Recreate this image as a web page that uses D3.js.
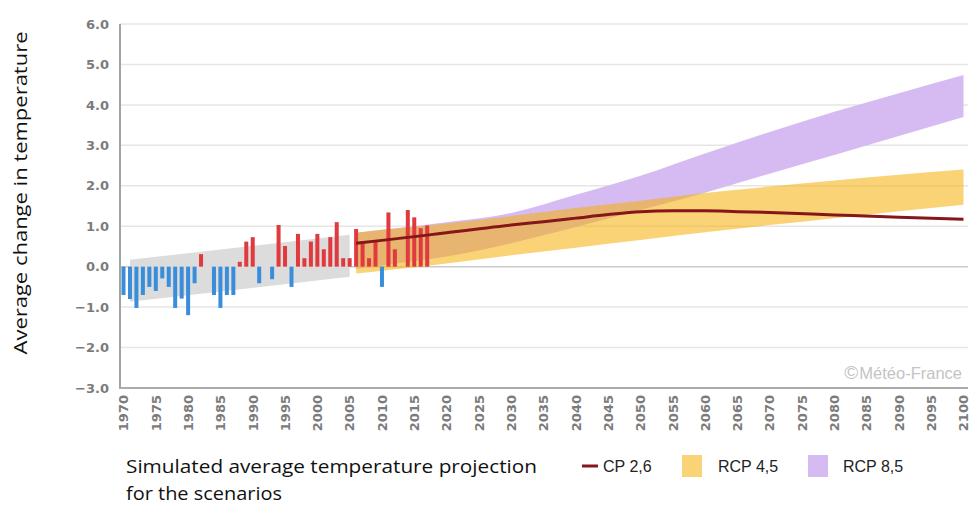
<!DOCTYPE html>
<html>
<head>
<meta charset="utf-8">
<script src="https://cdn.jsdelivr.net/npm/d3@7"></script>
<style>
  html, body { margin: 0; padding: 0; background: #fff; }
  svg { display: block; }
</style>
</head>
<body>
<svg id="chart" width="971" height="507"></svg>
<script>
// ---------- DATA ----------
const obsYears = d3.range(1970, 2018);
const obsValues = [
  -0.70, -0.80, -1.02, -0.70, -0.50, -0.60, -0.29, -0.50, -1.02, -0.79,
  -1.20, -0.41,  0.31,  0.00, -0.70, -1.02, -0.70, -0.70,  0.12,  0.62,
   0.73, -0.41,  0.00, -0.31,  1.03,  0.51, -0.50,  0.81,  0.21,  0.62,
   0.81,  0.43,  0.73,  1.10,  0.21,  0.21,  0.93,  0.62,  0.21,  0.62,
  -0.50,  1.34,  0.43,  0.00,  1.40,  1.22,  0.95,  1.02
];

const trendYears = [1971, 2005];
const trendLow   = [-0.87, -0.25];
const trendHigh  = [0.17, 0.79];

const projYears   = [2006, 2010, 2020, 2030, 2040, 2050, 2060, 2070, 2080, 2090, 2100];
const rcp45Low    = [-0.17, -0.10, 0.08, 0.28, 0.47, 0.66, 0.85, 1.03, 1.20, 1.37, 1.53];
const rcp45High   = [0.84, 0.91, 1.07, 1.25, 1.45, 1.63, 1.82, 1.98, 2.13, 2.27, 2.40];
const rcp85Low    = [-0.05, 0.03, 0.25, 0.58, 0.98, 1.40, 1.83, 2.30, 2.76, 3.23, 3.70];
const rcp85High   = [0.84, 0.91, 1.10, 1.33, 1.78, 2.25, 2.80, 3.33, 3.83, 4.29, 4.74];

const rcp26Years  = [2006, 2010, 2017, 2020, 2030, 2035, 2040, 2045, 2050, 2055, 2060, 2065, 2070, 2080, 2090, 2100];
const rcp26Values = [0.58, 0.65, 0.78, 0.84, 1.03, 1.11, 1.20, 1.29, 1.36, 1.38, 1.38, 1.36, 1.34, 1.28, 1.22, 1.17];

const xTicks = d3.range(1970, 2101, 5);
const yTicks = d3.range(-3, 7, 1);

const legendItems = ["CP 2,6", "RCP 4,5", "RCP 8,5"];
const yTitle = "Average change in temperature";
const captionLines = ["Simulated average temperature projection", "for the scenarios"];
const watermark = "M\u00E9t\u00E9o-France";

// ---------- LAYOUT ----------
const svg = d3.select("#chart");
const x = d3.scaleLinear().domain([1970, 2100]).range([123.5, 963.5]);
const y = d3.scaleLinear().domain([-3, 6]).range([388, 24]);
const plotLeft = 120, plotRight = 968;

const tickFont = "'DejaVu Sans', Verdana, sans-serif";
const tickColor = "#7b7b7b";

// gridlines
svg.append("g").selectAll("line")
  .data(yTicks)
  .join("line")
  .attr("x1", plotLeft).attr("x2", plotRight)
  .attr("y1", d => y(d)).attr("y2", d => y(d))
  .attr("stroke", d => d === 0 ? "#cccccc" : "#e6e6e6")
  .attr("stroke-width", 1.5);

// trend band (grey)
const trend = trendYears.map((yr, i) => ({yr, lo: trendLow[i], hi: trendHigh[i]}));
svg.append("path")
  .datum(trend)
  .attr("fill", "#dcdcdc")
  .attr("d", d3.area().x(d => x(d.yr)).y0(d => y(d.lo)).y1(d => y(d.hi)));

// projection bands
const proj = projYears.map((yr, i) => ({
  yr, l45: rcp45Low[i], h45: rcp45High[i], l85: rcp85Low[i], h85: rcp85High[i]
}));
svg.append("path")
  .datum(proj)
  .attr("fill", "#d5bbf2")
  .attr("d", d3.area().curve(d3.curveMonotoneX)
    .x(d => x(d.yr)).y0(d => y(d.l85)).y1(d => y(d.h85)));
svg.append("path")
  .datum(proj)
  .attr("fill", "rgb(244,176,10)")
  .attr("fill-opacity", 0.56)
  .attr("d", d3.area().curve(d3.curveMonotoneX)
    .x(d => x(d.yr)).y0(d => y(d.l45)).y1(d => y(d.h45)));

// bars
const obs = obsYears.map((yr, i) => ({yr, v: obsValues[i]}));
const barW = 4;
svg.append("g").selectAll("rect")
  .data(obs.filter(d => d.v !== 0))
  .join("rect")
  .attr("x", d => x(d.yr) - barW / 2)
  .attr("width", barW)
  .attr("y", d => y(Math.max(0, d.v)))
  .attr("height", d => Math.abs(y(d.v) - y(0)))
  .attr("fill", d => d.v > 0 ? "#e03a3e" : "#3a8dd8");

// RCP 2.6 line
const r26 = rcp26Years.map((yr, i) => ({yr, v: rcp26Values[i]}));
svg.append("path")
  .datum(r26)
  .attr("fill", "none")
  .attr("stroke", "#861619")
  .attr("stroke-width", 3)
  .attr("d", d3.line().curve(d3.curveMonotoneX).x(d => x(d.yr)).y(d => y(d.v)));

// axes lines
svg.append("line").attr("x1", plotLeft).attr("x2", plotLeft)
  .attr("y1", y(6)).attr("y2", y(-3) + 1)
  .attr("stroke", "#a3a3a3").attr("stroke-width", 2);
svg.append("line").attr("x1", plotLeft).attr("x2", plotRight)
  .attr("y1", y(-3)).attr("y2", y(-3))
  .attr("stroke", "#ababab").attr("stroke-width", 2);

// y axis labels
const yAxis = svg.append("g")
  .attr("transform", `translate(${plotLeft},0)`)
  .call(d3.axisLeft(y).tickValues(yTicks).tickFormat(d3.format(".1f")).tickSize(0).tickPadding(11));
yAxis.select(".domain").remove();
yAxis.selectAll("text")
  .attr("font-family", tickFont).attr("font-weight", "bold")
  .attr("font-size", 13).attr("fill", tickColor);

// x axis labels
const xAxis = svg.append("g")
  .attr("transform", `translate(0,${y(-3)})`)
  .call(d3.axisBottom(x).tickValues(xTicks).tickFormat(d3.format("d")).tickSize(0));
xAxis.select(".domain").remove();
xAxis.selectAll("text")
  .attr("font-family", tickFont).attr("font-weight", "bold")
  .attr("font-size", 13).attr("fill", tickColor)
  .attr("text-anchor", "end")
  .attr("transform", "rotate(-90)")
  .attr("x", -7).attr("y", 0).attr("dy", "0.33em");

// watermark
const wm = svg.append("text")
  .attr("x", 962).attr("y", 379)
  .attr("text-anchor", "end")
  .attr("font-family", "'Liberation Sans', Arial, sans-serif")
  .attr("fill", "#c4c4c4");
wm.append("tspan").attr("font-size", 19).text("\u00A9");
wm.append("tspan").attr("font-size", 16.5).attr("dx", 1).text(watermark);

// y axis title
svg.append("text")
  .attr("transform", "translate(27,193) rotate(-90)")
  .attr("text-anchor", "middle")
  .attr("font-family", "'Open Sans', sans-serif")
  .attr("font-size", 19)
  .attr("fill", "#111")
  .attr("textLength", 323)
  .attr("lengthAdjust", "spacingAndGlyphs")
  .text(yTitle);

// caption
svg.append("g").selectAll("text")
  .data(captionLines)
  .join("text")
  .attr("x", 126)
  .attr("y", (d, i) => 473 + i * 27)
  .attr("font-family", "'Open Sans', sans-serif")
  .attr("font-size", 19)
  .attr("fill", "#111")
  .attr("textLength", (d, i) => i === 0 ? 411 : 156)
  .attr("lengthAdjust", "spacingAndGlyphs")
  .text(d => d);

// legend
const lg = svg.append("g");
lg.append("line").attr("x1", 582).attr("x2", 598).attr("y1", 466).attr("y2", 466)
  .attr("stroke", "#861619").attr("stroke-width", 3);
lg.append("rect").attr("x", 682).attr("y", 455).attr("width", 20).attr("height", 22)
  .attr("fill", "rgb(244,176,10)").attr("fill-opacity", 0.56);
lg.append("rect").attr("x", 808).attr("y", 455).attr("width", 20).attr("height", 22)
  .attr("fill", "#d5bbf2");
const legendX = [603, 718, 843];
lg.selectAll("text.lt")
  .data(legendItems)
  .join("text")
  .attr("class", "lt")
  .attr("x", (d, i) => legendX[i])
  .attr("y", 472)
  .attr("font-family", "'Liberation Sans', Arial, sans-serif")
  .attr("font-size", 16)
  .attr("fill", "#222")
  .text(d => d);
</script>
</body>
</html>
